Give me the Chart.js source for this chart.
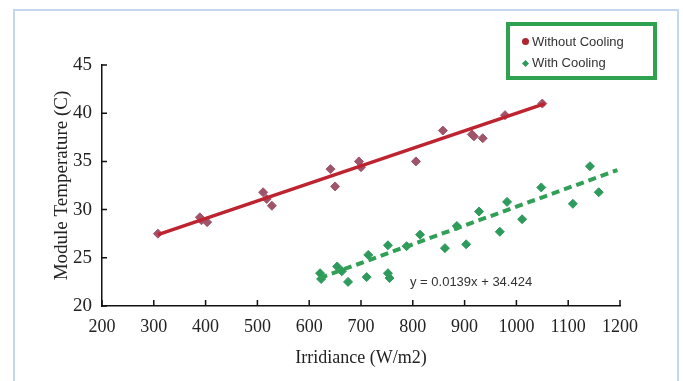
<!DOCTYPE html>
<html>
<head>
<meta charset="utf-8">
<script src="https://cdn.jsdelivr.net/npm/chart.js@4"></script>
<style>
  body { margin: 0; background: #fff; }
  #wrap { position: relative; width: 683px; height: 381px; overflow: hidden; }
  #frame { position: absolute; left: 13px; top: 9px; width: 662px; height: 400px; border: 2px solid #c3d7ee; }
  canvas { position: absolute; left: 0; top: 0; }
  #legend { position: absolute; left: 506px; top: 22px; width: 143px; height: 50px; border: 4px solid #2fa24f;
    font: 13px "Liberation Sans", Arial, sans-serif; color: #333; }
  #legend .item { position: absolute; left: 22px; white-space: nowrap; }
  #legend .dot { position: absolute; left: -10px; top: 4px; width: 7px; height: 7px; border-radius: 50%; background: #b0252e; }
  #legend .dia { position: absolute; left: -9px; top: 6px; width: 5px; height: 5px; transform: rotate(45deg); background: #2e9a5c; }
  #eq { position: absolute; left: 410px; top: 274px; font: 13px "Liberation Sans", Arial, sans-serif; color: #333; white-space: nowrap; }
</style>
</head>
<body>
<div id="wrap">
  <div id="frame"></div>
  <canvas id="chart" width="683" height="381"></canvas>
  <div id="legend">
    <div class="item" style="top:8px"><span class="dot"></span>Without Cooling</div>
    <div class="item" style="top:29px"><span class="dia"></span>With Cooling</div>
  </div>
  <div id="eq">y = 0.0139x + 34.424</div>
</div>
<script>
// readings
const irrNoCool = [308, 389, 392, 403, 511, 518, 528, 641, 650, 696, 700, 806, 858, 914, 918, 935, 978, 1050];
const tempNoCool = [27.5, 29.2, 28.9, 28.7, 31.8, 31.1, 30.4, 34.2, 32.4, 35.0, 34.4, 35.0, 38.2, 37.8, 37.6, 37.4, 39.8, 41.0];

const irrCool = [621, 623, 654, 663, 675, 711, 714, 752, 752, 755, 788, 814, 862, 885, 903, 928, 968, 982, 1011, 1048, 1109, 1142, 1159];
const tempCool = [23.4, 22.8, 24.1, 23.6, 22.5, 23.0, 25.3, 26.3, 23.4, 22.9, 26.2, 27.4, 26.0, 28.3, 26.4, 29.8, 27.7, 30.8, 29.0, 32.3, 30.6, 34.5, 31.8];

const trendNoCoolX = [308, 1055];
const trendNoCoolY = [27.4, 41.0];
const trendCoolX = [620, 1195];
const trendCoolY = [22.9, 34.1];

const xTicks = [200, 300, 400, 500, 600, 700, 800, 900, 1000, 1100, 1200];
const yTicks = [20, 25, 30, 35, 40, 45];

const toPts = (xs, ys) => xs.map((x, i) => ({ x, y: ys[i] }));

// small ticks pointing into the plot
const innerTicks = {
  id: 'innerTicks',
  afterDraw(chart) {
    const { ctx, chartArea, scales } = chart;
    ctx.save();
    ctx.strokeStyle = '#111';
    ctx.lineWidth = 1.5;
    ctx.beginPath();
    xTicks.forEach(v => {
      const px = scales.x.getPixelForValue(v);
      ctx.moveTo(px, chartArea.bottom);
      ctx.lineTo(px, chartArea.bottom - 6);
    });
    yTicks.forEach(v => {
      const py = scales.y.getPixelForValue(v);
      ctx.moveTo(chartArea.left, py);
      ctx.lineTo(chartArea.left + 5, py);
    });
    ctx.stroke();
    ctx.restore();
  }
};

const serif = '"Liberation Serif", "Times New Roman", serif';

new Chart(document.getElementById('chart'), {
  type: 'scatter',
  data: {
    datasets: [
      {
        label: 'Without Cooling',
        data: toPts(irrNoCool, tempNoCool),
        pointStyle: 'rectRot',
        pointRadius: 4.5,
        backgroundColor: '#a0546a',
        borderColor: '#a0546a',
        order: 2
      },
      {
        label: 'With Cooling',
        data: toPts(irrCool, tempCool),
        pointStyle: 'rectRot',
        pointRadius: 4.5,
        backgroundColor: '#2e9a5c',
        borderColor: '#2e9a5c',
        order: 2
      },
      {
        type: 'line',
        label: 'trend1',
        data: toPts(trendNoCoolX, trendNoCoolY),
        borderColor: '#bd2430',
        borderWidth: 3.5,
        pointRadius: 0,
        order: 1
      },
      {
        type: 'line',
        label: 'trend2',
        data: toPts(trendCoolX, trendCoolY),
        borderColor: '#2fa055',
        borderWidth: 4,
        borderDash: [8, 5],
        pointRadius: 0,
        order: 1
      }
    ]
  },
  options: {
    responsive: false,
    animation: false,
    layout: { padding: { left: 47, right: 63, top: 65, bottom: 8 } },
    plugins: { legend: { display: false }, tooltip: { enabled: false } },
    scales: {
      x: {
        type: 'linear',
        min: 200,
        max: 1200,
        afterBuildTicks: s => { s.ticks = xTicks.map(v => ({ value: v })); },
        afterFit: s => { s.height = 67; },
        grid: { drawOnChartArea: false, drawTicks: false },
        border: { display: true, color: '#111', width: 1.5 },
        ticks: { padding: 10, color: '#222', font: { family: serif, size: 18 }, callback: v => String(v) },
        title: { display: true, text: 'Irridiance (W/m2)', color: '#222', padding: { top: 4 }, font: { family: serif, size: 18 } }
      },
      y: {
        min: 20,
        max: 45,
        afterBuildTicks: s => { s.ticks = yTicks.map(v => ({ value: v })); },
        afterFit: s => { s.width = 55; },
        grid: { drawOnChartArea: false, drawTicks: false },
        border: { display: true, color: '#111', width: 1.5 },
        ticks: { padding: 10, color: '#222', font: { family: serif, size: 19 }, callback: v => String(v) },
        title: { display: true, text: 'Module Temperature (C)', color: '#222', padding: { bottom: 2 }, font: { family: serif, size: 19 } }
      }
    }
  },
  plugins: [innerTicks]
});
</script>
</body>
</html>
